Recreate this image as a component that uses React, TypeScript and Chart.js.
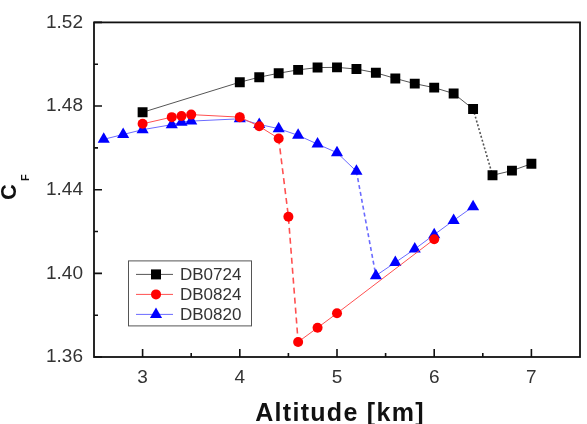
import React, { useEffect, useRef } from "react";
import { Chart, registerables } from "chart.js";

Chart.register(...registerables);

const FONT = '"Liberation Sans", Arial, Helvetica, sans-serif';

// Axis ranges and ticks
const xMin = 2.5;
const xMax = 7.5;
const yMin = 1.36;
const yMax = 1.52;
const xTicks = [3, 4, 5, 6, 7];
const xMinor = [3.5, 4.5, 5.5, 6.5];
const yTicks = [1.36, 1.4, 1.44, 1.48, 1.52];
const yMinor = [1.38, 1.42, 1.46, 1.5];

const xTitle = "Altitude [km]";
const yTitleMain = "C";
const yTitleSub = "F";

// Series
const names = ["DB0724", "DB0824", "DB0820"];

const db0724X = [3, 4, 4.2, 4.4, 4.6, 4.8, 5, 5.2, 5.4, 5.6, 5.8, 6, 6.2, 6.4, 6.6, 6.8, 7];
const db0724Y = [1.477, 1.4914, 1.4938, 1.4957, 1.4973, 1.4984, 1.4985, 1.4977, 1.4959, 1.4932, 1.4907, 1.4888, 1.486, 1.4786, 1.4469, 1.4491, 1.4524];

const db0824X = [3, 3.3, 3.4, 3.5, 4, 4.2, 4.4, 4.5, 4.6, 4.8, 5, 6];
const db0824Y = [1.4715, 1.4747, 1.4752, 1.4759, 1.4747, 1.4703, 1.4645, 1.4271, 1.3672, 1.374, 1.3809, 1.4163];

const db0820X = [2.6, 2.8, 3, 3.3, 3.4, 3.5, 4, 4.2, 4.4, 4.6, 4.8, 5, 5.2, 5.4, 5.6, 5.8, 6, 6.2, 6.4];
const db0820Y = [1.4641, 1.4664, 1.4687, 1.4711, 1.4723, 1.4728, 1.4739, 1.4712, 1.4692, 1.466, 1.4618, 1.4577, 1.4488, 1.3989, 1.4052, 1.4116, 1.4185, 1.4253, 1.4319];

// segments drawn dashed (start index of segment)
const db0724Dashed = [13];
const db0824Dashed = [6, 7];
const db0820Dashed = [12];

const toPts = (xs: number[], ys: number[]) => xs.map((x, i) => ({ x, y: ys[i] }));

const framePlugin = {
  id: "frameTicks",
  afterDraw(chart: any) {
    const { ctx, chartArea: a, scales } = chart;
    const xs = scales.x;
    const ys = scales.y;
    ctx.save();
    ctx.strokeStyle = "#111";
    ctx.lineWidth = 1.6;
    ctx.beginPath();
    xTicks.forEach((v) => {
      const px = xs.getPixelForValue(v);
      ctx.moveTo(px, a.bottom);
      ctx.lineTo(px, a.bottom - 8);
    });
    xMinor.forEach((v) => {
      const px = xs.getPixelForValue(v);
      ctx.moveTo(px, a.bottom);
      ctx.lineTo(px, a.bottom - 4);
    });
    yTicks.forEach((v) => {
      const py = ys.getPixelForValue(v);
      ctx.moveTo(a.left, py);
      ctx.lineTo(a.left + 8, py);
    });
    yMinor.forEach((v) => {
      const py = ys.getPixelForValue(v);
      ctx.moveTo(a.left, py);
      ctx.lineTo(a.left + 4, py);
    });
    ctx.stroke();
    ctx.lineWidth = 1.8;
    ctx.strokeRect(a.left, a.top, a.right - a.left, a.bottom - a.top);

    // axis titles
    ctx.fillStyle = "#111";
    ctx.font = `bold 25px ${FONT}`;
    (ctx as any).letterSpacing = "1.3px";
    ctx.textAlign = "center";
    ctx.textBaseline = "alphabetic";
    ctx.fillText(xTitle, (a.left + a.right) / 2 + 3, 421);
    (ctx as any).letterSpacing = "0px";

    ctx.save();
    ctx.translate(16, 200);
    ctx.rotate(-Math.PI / 2);
    ctx.textAlign = "left";
    ctx.font = `bold 22px ${FONT}`;
    ctx.fillText(yTitleMain, 0, 0);
    const w = ctx.measureText(yTitleMain).width;
    ctx.font = `bold 11px ${FONT}`;
    ctx.fillText(yTitleSub, w + 3, 13);
    ctx.restore();

    // legend
    const bx = a.left + 34;
    const by = a.top + 238;
    const bw = 123;
    const bh = 65;
    ctx.fillStyle = "#fff";
    ctx.fillRect(bx, by, bw, bh);
    ctx.strokeStyle = "#555";
    ctx.lineWidth = 1;
    ctx.strokeRect(bx + 0.5, by + 0.5, bw, bh);
    chart.data.datasets.forEach((ds: any, i: number) => {
      const ry = by + 14 + i * 20;
      const lx1 = bx + 8;
      const lx2 = bx + 45;
      const mx = bx + 28;
      ctx.strokeStyle = ds.borderColor;
      ctx.lineWidth = 1;
      ctx.beginPath();
      ctx.moveTo(lx1, ry);
      ctx.lineTo(lx2, ry);
      ctx.stroke();
      ctx.fillStyle = ds.pointBackgroundColor;
      ctx.beginPath();
      if (ds.pointStyle === "rect") {
        ctx.rect(mx - 5, ry - 5, 10, 10);
      } else if (ds.pointStyle === "circle") {
        ctx.arc(mx, ry, 5, 0, Math.PI * 2);
      } else {
        const r = 7;
        ctx.moveTo(mx, ry - r);
        ctx.lineTo(mx + r * 0.866, ry + r / 2);
        ctx.lineTo(mx - r * 0.866, ry + r / 2);
        ctx.closePath();
      }
      ctx.fill();
      ctx.fillStyle = "#333";
      ctx.font = `17px ${FONT}`;
      ctx.textAlign = "left";
      ctx.textBaseline = "middle";
      ctx.fillText(ds.label, bx + 52, ry + 1);
    });
    ctx.restore();
  },
};

function dashSeg(list: number[], dash: number[]) {
  return {
    borderDash: (c: any) => (list.includes(c.p0DataIndex) ? dash : undefined),
    borderWidth: (c: any) => (list.includes(c.p0DataIndex) ? 1.6 : undefined),
  };
}

export default function App() {
  const ref = useRef<HTMLCanvasElement | null>(null);
  useEffect(() => {
    if (!ref.current) return;
    const chart = new Chart(ref.current, {
      type: "scatter",
      data: {
        datasets: [
          {
            label: names[0],
            data: toPts(db0724X, db0724Y),
            showLine: true,
            borderColor: "#555",
            borderWidth: 1,
            pointStyle: "rect",
            pointRadius: 7,
            pointBackgroundColor: "#000",
            pointBorderColor: "#000",
            pointBorderWidth: 0,
            segment: dashSeg(db0724Dashed, [2, 2]),
          },
          {
            label: names[1],
            data: toPts(db0824X, db0824Y),
            showLine: true,
            borderColor: "#ff5050",
            borderWidth: 1,
            pointStyle: "circle",
            pointRadius: 5,
            pointBackgroundColor: "#ff0000",
            pointBorderColor: "#ff0000",
            pointBorderWidth: 0,
            segment: dashSeg(db0824Dashed, [6, 4]),
          },
          {
            label: names[2],
            data: toPts(db0820X, db0820Y),
            showLine: true,
            borderColor: "#6b6bff",
            borderWidth: 1,
            pointStyle: "triangle",
            pointRadius: 7,
            pointBackgroundColor: "#0000ff",
            pointBorderColor: "#0000ff",
            pointBorderWidth: 0,
            segment: dashSeg(db0820Dashed, [4, 3]),
          },
        ],
      } as any,
      options: {
        animation: false,
        responsive: true,
        maintainAspectRatio: false,
        layout: { padding: { left: 0, right: 4, top: 17, bottom: 0 } },
        plugins: { legend: { display: false }, tooltip: { enabled: false } },
        scales: {
          x: {
            type: "linear",
            min: xMin,
            max: xMax,
            afterBuildTicks: (s: any) => {
              s.ticks = xTicks.map((v) => ({ value: v }));
            },
            afterFit: (s: any) => {
              s.height = 67;
            },
            grid: { display: false, drawTicks: false },
            border: { display: false },
            ticks: {
              font: { family: FONT, size: 19 },
              color: "#333",
              padding: 9,
              maxRotation: 0,
              autoSkip: false,
            },
          },
          y: {
            type: "linear",
            min: yMin,
            max: yMax,
            afterBuildTicks: (s: any) => {
              s.ticks = yTicks.map((v) => ({ value: v }));
            },
            afterFit: (s: any) => {
              s.width = 94;
            },
            grid: { display: false, drawTicks: false },
            border: { display: false },
            ticks: {
              font: { family: FONT, size: 19 },
              color: "#333",
              padding: 11,
              autoSkip: false,
              callback: (v: any) => Number(v).toFixed(2),
            },
          },
        },
      } as any,
      plugins: [framePlugin],
    });
    return () => chart.destroy();
  }, []);
  return (
    <div style={{ position: "fixed", left: 0, top: 0, width: 587, height: 424, background: "#fff" }}>
      <canvas ref={ref} width={587} height={424} />
    </div>
  );
}
